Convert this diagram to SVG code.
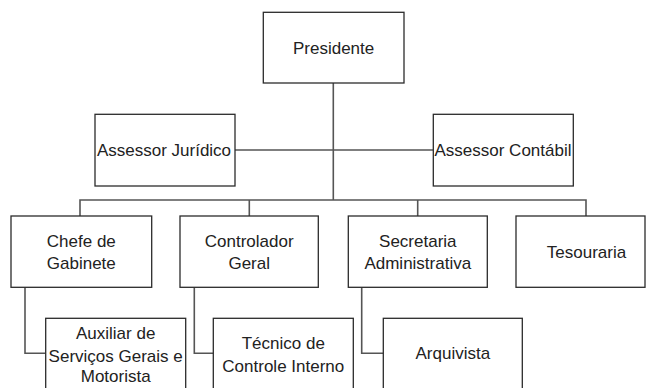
<svg xmlns="http://www.w3.org/2000/svg" width="647" height="388" viewBox="0 0 647 388">
<style>
.box{fill:#fff;stroke:#2b2b2b;stroke-width:1.3}
.t{font-family:"Liberation Sans",Arial,sans-serif;font-size:17px;fill:#222;text-anchor:middle}
.c{fill:none;stroke:#555;stroke-width:1.6}
</style>
<rect width="647" height="388" fill="#fff"/>
<g id="connectors">
<path class="c" d="M333.3 83 V200"/>
<path class="c" d="M235 150 H433.3"/>
<path class="c" d="M80 216 V200 H586 V216"/>
<path class="c" d="M249.3 200 V216"/>
<path class="c" d="M417.7 200 V216"/>
<path class="c" d="M25 287.3 V353.3 H45.7"/>
<path class="c" d="M194.3 287.3 V353.3 H213.3"/>
<path class="c" d="M361.7 287.3 V353.3 H383.3"/>
</g>
<g id="presidente"><rect class="box" x="263.3" y="12.3" width="140.7" height="70.7"/><text class="t" x="333.6" y="53.5">Presidente</text></g>
<g id="assessor-juridico"><rect class="box" x="95" y="114.3" width="140" height="71.7"/><text class="t" x="164" y="156">Assessor Jurídico</text></g>
<g id="assessor-contabil"><rect class="box" x="433.3" y="114.3" width="140" height="71.7"/><text class="t" x="503" y="156">Assessor Contábil</text></g>
<g id="chefe-gabinete"><rect class="box" x="11" y="216" width="140.7" height="71.3"/><text class="t" x="81.3" y="247.3">Chefe de</text><text class="t" x="81.3" y="269.3">Gabinete</text></g>
<g id="controlador-geral"><rect class="box" x="180" y="216" width="138.3" height="71.3"/><text class="t" x="249.2" y="247.3">Controlador</text><text class="t" x="249.2" y="269.3">Geral</text></g>
<g id="secretaria-administrativa"><rect class="box" x="348.3" y="216" width="139" height="71.3"/><text class="t" x="417.8" y="247.3">Secretaria</text><text class="t" x="417.8" y="269.3">Administrativa</text></g>
<g id="tesouraria"><rect class="box" x="516" y="216" width="129" height="71.3"/><text class="t" x="586.5" y="257.5">Tesouraria</text></g>
<g id="auxiliar"><rect class="box" x="45.7" y="318.3" width="140" height="80"/><text class="t" x="115.7" y="339">Auxiliar de</text><text class="t" x="115.7" y="362">Serviços Gerais e</text><text class="t" x="115.7" y="382">Motorista</text></g>
<g id="tecnico"><rect class="box" x="213.3" y="318.3" width="140" height="80"/><text class="t" x="283.3" y="349">Técnico de</text><text class="t" x="283.3" y="372">Controle Interno</text></g>
<g id="arquivista"><rect class="box" x="383.3" y="318.3" width="139" height="80"/><text class="t" x="452.8" y="359">Arquivista</text></g>
</svg>
